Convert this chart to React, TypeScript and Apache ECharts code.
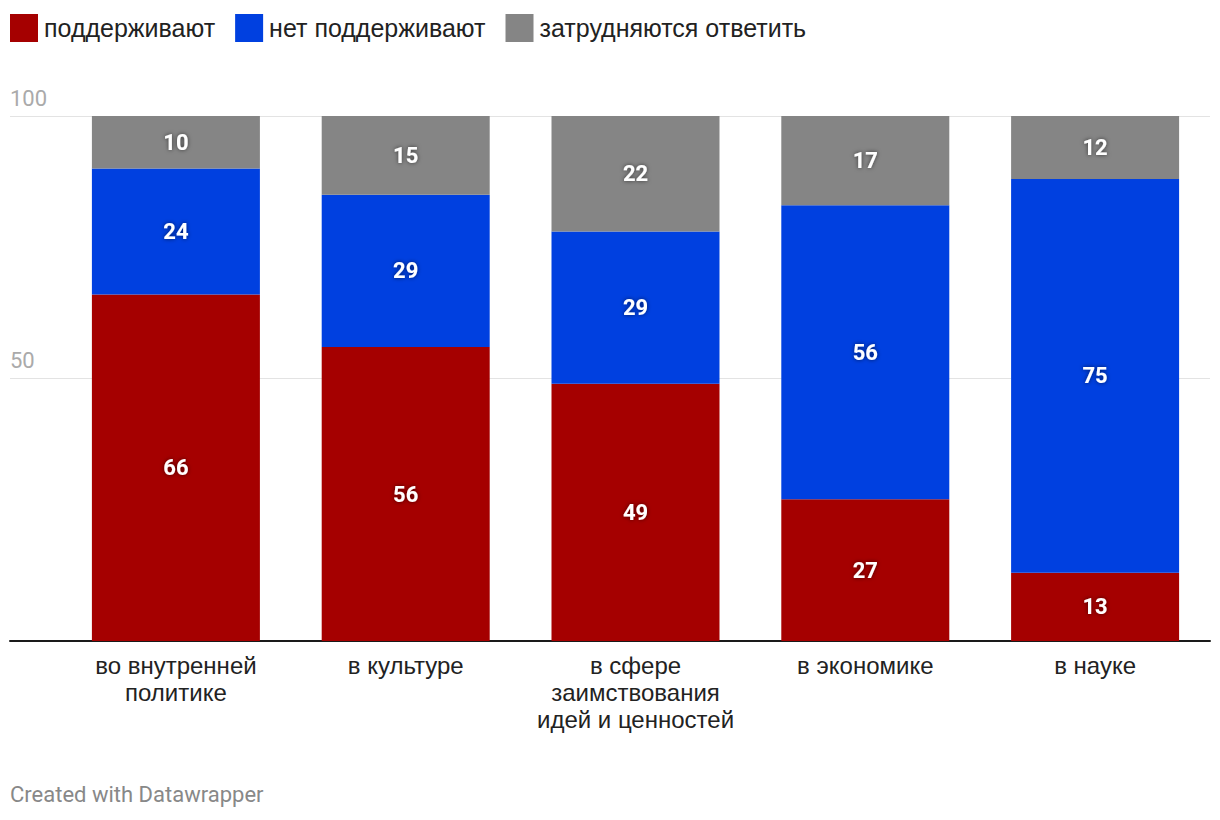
import React, { useEffect, useRef } from "react";
import * as echarts from "echarts";

const categories = [
  "во внутренней\nполитике",
  "в культуре",
  "в сфере\nзаимствования\nидей и ценностей",
  "в экономике",
  "в науке",
];
const seriesNames = ["поддерживают", "нет поддерживают", "затрудняются ответить"];
const support = [66, 56, 49, 27, 13];
const notSupport = [24, 29, 29, 56, 75];
const undecided = [10, 15, 22, 17, 12];
const colors = ["#a50000", "#0040e0", "#858585"];

export default function App() {
  const ref = useRef<HTMLDivElement>(null);
  useEffect(() => {
    document.body.style.margin = "0";
    const chart = echarts.init(ref.current!, null, { renderer: "svg" });
    const labelStyle = {
      show: true,
      position: "inside",
      color: "#fff",
      fontFamily: "Roboto",
      fontWeight: "bold",
      fontSize: 22,
      textShadowColor: "rgba(0,0,0,0.6)",
      textShadowBlur: 4,
    };
    const data = [support, notSupport, undecided];
    chart.setOption({
      animation: false,
      legend: {
        left: 10,
        top: 14,
        padding: 0,
        itemWidth: 28,
        itemHeight: 28,
        itemGap: 20,
        icon: "rect",
        textStyle: { fontSize: 25, color: "#222", fontFamily: "Liberation Sans", padding: [0, 0, 0, 1] },
        data: seriesNames,
      },
      grid: [
        { left: 61, right: 10, top: 116, bottom: 179 },
        { left: 10, right: 10, top: 116, bottom: 179 },
      ],
      xAxis: [
        {
          type: "category",
          gridIndex: 0,
          data: categories,
          axisLine: { show: false },
          axisTick: { show: false },
          axisLabel: {
            fontSize: 24,
            lineHeight: 27,
            color: "#222",
            fontFamily: "Liberation Sans",
            margin: 11,
            interval: 0,
          },
        },
        {
          type: "value",
          gridIndex: 1,
          min: 0,
          max: 1,
          axisLine: { show: true, onZero: false, lineStyle: { color: "#1a1a1a", width: 2 } },
          axisTick: { show: false },
          axisLabel: { show: false },
          splitLine: { show: false },
        },
      ],
      yAxis: [
        {
          type: "value",
          gridIndex: 0,
          min: 0,
          max: 100,
          show: false,
          splitLine: { show: false },
        },
        {
          type: "value",
          gridIndex: 1,
          min: 0,
          max: 100,
          interval: 50,
          axisLine: { show: false },
          axisTick: { show: false },
          splitLine: { lineStyle: { color: "#e3e3e3", width: 1 } },
          axisLabel: {
            inside: true,
            margin: 0,
            verticalAlign: "bottom",
            padding: [0, 0, 7, 0],
            fontSize: 22,
            color: "#aaa",
            fontFamily: "Roboto",
            showMinLabel: false,
            formatter: (v: number) => (v === 0 ? "" : String(v)),
          },
        },
      ],
      series: seriesNames.map((name, i) => ({
        name,
        type: "bar",
        stack: "total",
        xAxisIndex: 0,
        yAxisIndex: 0,
        barWidth: 168,
        itemStyle: { color: colors[i] },
        label: labelStyle,
        z: 3,
        data: data[i],
      })),
      graphic: [
        {
          type: "text",
          left: 10,
          top: 783,
          style: {
            text: "Created with Datawrapper",
            fontFamily: "Roboto",
            fontSize: 22,
            fill: "#888",
          },
        },
      ],
    });
    return () => chart.dispose();
  }, []);
  return (
    <div
      ref={ref}
      style={{ position: "absolute", left: 0, top: 0, width: 1220, height: 820, background: "#fff" }}
    />
  );
}
